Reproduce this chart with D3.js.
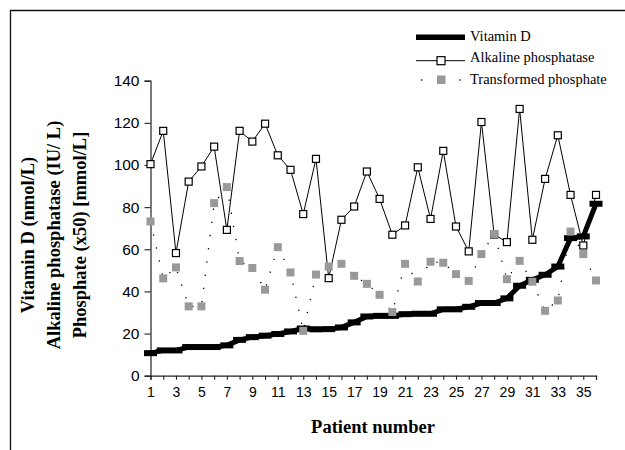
<!DOCTYPE html>
<html>
<head>
<meta charset="utf-8">
<script src="https://cdn.jsdelivr.net/npm/d3@7"></script>
<style>
  body { margin: 0; background: #fff; }
  svg { display: block; }
  .tick text { font-family: "Liberation Sans", Arial, sans-serif; fill: #000; }
  .serif { font-family: "Liberation Serif", "Times New Roman", serif; fill: #000; }
</style>
</head>
<body>
<script>
"use strict";

// patient numbers 1..36
var patients = [1,2,3,4,5,6,7,8,9,10,11,12,13,14,15,16,17,18,19,20,21,22,23,24,25,26,27,28,29,30,31,32,33,34,35,36];

// Vitamin D (nmol/L), sorted ascending
var vitaminD = [10.7, 12, 12, 13.6, 13.6, 13.6, 14.4, 17, 18.3, 19, 19.8, 21, 22.4, 22, 22.1, 22.9, 25.3, 28.1,
                28.4, 28.4, 29.2, 29.4, 29.4, 31.5, 31.5, 32.7, 34.5, 34.5, 36.7, 42.7, 45.5, 47.9, 51.8, 65.3, 66.1, 81.6];

// Alkaline phosphatase (IU/L)
var alkaline = [100.4, 116.2, 58.2, 92.1, 99.3, 108.7, 69.2, 116.2, 111.1, 119.6, 104.6, 97.7, 76.7, 102.9, 46.3, 74.0,
                80.3, 96.9, 83.9, 66.9, 71.3, 98.9, 74.4, 106.7, 70.8, 59.0, 120.4, 67, 63.4, 126.6, 64.5, 93.4, 114.1, 85.8, 61.8, 85.8];

// Phosphate x50 (mmol/L)
var phosphate = [73.2, 46.2, 51.4, 32.9, 32.9, 81.9, 89.5, 54.4, 51.1, 40.8, 61.0, 49.0, 21.3, 48.0, 51.8, 53.1,
                 47.4, 43.6, 38.4, 30.2, 53.1, 44.7, 54.1, 53.6, 48.2, 45.0, 57.7, 67.3, 45.8, 54.5, 44.6, 30.8, 35.7, 68.4, 57.7, 45.2];

var yTicks = [0, 20, 40, 60, 80, 100, 120, 140];
var yTitle = ["Vitamin D (nmol/L)", "Alkaline phosphatase (IU/ L)", "Phosphate (x50) [mmol/L]"];
var xTitle = "Patient number";
var legendLabels = ["Vitamin D", "Alkaline phosphatase", "Transformed phosphate"];

var width = 625, height = 450;

var svg = d3.select("body").append("svg")
    .attr("width", width)
    .attr("height", height);

// outer frame (top and left edges only)
svg.append("path")
    .attr("d", "M10.5,450V10.5H625")
    .attr("fill", "none")
    .attr("stroke", "#111")
    .attr("stroke-width", 1.3);

var x = d3.scaleLinear().domain([1, 36]).range([150.5, 596]);
var y = d3.scaleLinear().domain([0, 140]).range([375.7, 80.7]);

// axes
var yAxis = svg.append("g")
    .attr("transform", "translate(150.5,0)")
    .call(d3.axisLeft(y).tickValues(yTicks).tickSize(6).tickPadding(5));
yAxis.selectAll("text").style("font-size", "15.5px");

var xAxis = svg.append("g")
    .attr("transform", "translate(0,375.7)")
    .call(d3.axisBottom(x).tickValues(patients).tickSize(4).tickPadding(7)
        .tickFormat(function(d) { return d % 2 ? d : ""; }));
xAxis.selectAll("text").style("font-size", "14px");

svg.selectAll(".domain").attr("stroke", "#222").attr("stroke-width", 1.2);
svg.selectAll(".tick line").attr("stroke", "#222").attr("stroke-width", 1.1);

// axis titles
var yt = svg.append("text")
    .attr("class", "serif")
    .attr("transform", "translate(0,235) rotate(-90)")
    .attr("text-anchor", "middle")
    .style("font-size", "18.5px")
    .style("font-weight", "bold");
yt.selectAll("tspan").data(yTitle).enter().append("tspan")
    .attr("x", 0)
    .attr("y", function(d, i) { return 34 + i * 26; })
    .text(function(d) { return d; });

svg.append("text")
    .attr("class", "serif")
    .attr("x", 373)
    .attr("y", 433)
    .attr("text-anchor", "middle")
    .style("font-size", "18.5px")
    .style("font-weight", "bold")
    .text(xTitle);

var line = function(values) {
    return d3.line()
        .x(function(d, i) { return x(patients[i]); })
        .y(function(d) { return y(d); })(values);
};

// Vitamin D: thick line with flat bar markers
svg.append("path")
    .attr("d", line(vitaminD))
    .attr("fill", "none")
    .attr("stroke", "#000")
    .attr("stroke-width", 5)
    .attr("stroke-linejoin", "round");

svg.selectAll(".vitd").data(vitaminD).enter().append("rect")
    .attr("class", "vitd")
    .attr("x", function(d, i) { return x(patients[i]) - 6.5; })
    .attr("y", function(d) { return y(d) - 3; })
    .attr("width", 13)
    .attr("height", 6)
    .attr("fill", "#000");

// Alkaline phosphatase: thin line, open squares
svg.append("path")
    .attr("d", line(alkaline))
    .attr("fill", "none")
    .attr("stroke", "#000")
    .attr("stroke-width", 1);

svg.selectAll(".alk").data(alkaline).enter().append("rect")
    .attr("class", "alk")
    .attr("x", function(d, i) { return x(patients[i]) - 3.5; })
    .attr("y", function(d) { return y(d) - 3.5; })
    .attr("width", 7)
    .attr("height", 7)
    .attr("fill", "#fff")
    .attr("stroke", "#000")
    .attr("stroke-width", 1.2);

// Transformed phosphate: sparse dotted line, grey squares
svg.append("path")
    .attr("d", line(phosphate))
    .attr("fill", "none")
    .attr("stroke", "#000")
    .attr("stroke-width", 1.3)
    .attr("stroke-dasharray", "1.3,12");

svg.selectAll(".pho").data(phosphate).enter().append("rect")
    .attr("class", "pho")
    .attr("x", function(d, i) { return x(patients[i]) - 4; })
    .attr("y", function(d) { return y(d) - 4; })
    .attr("width", 8)
    .attr("height", 8)
    .attr("fill", "#999");

// legend
var lg = svg.append("g");
lg.append("line")
    .attr("x1", 416).attr("x2", 465).attr("y1", 37.3).attr("y2", 37.3)
    .attr("stroke", "#000").attr("stroke-width", 5.5);
lg.append("line")
    .attr("x1", 416).attr("x2", 465).attr("y1", 60.7).attr("y2", 60.7)
    .attr("stroke", "#000").attr("stroke-width", 1);
lg.append("rect")
    .attr("x", 437).attr("y", 56.7).attr("width", 8).attr("height", 8)
    .attr("fill", "#fff").attr("stroke", "#000").attr("stroke-width", 1.2);
lg.selectAll(".ldot").data([421.7, 460]).enter().append("rect")
    .attr("class", "ldot")
    .attr("x", function(d) { return d - 0.7; })
    .attr("y", 79.3).attr("width", 1.4).attr("height", 1.4)
    .attr("fill", "#000");
lg.append("rect")
    .attr("x", 437).attr("y", 75.5).attr("width", 8.5).attr("height", 8.5)
    .attr("fill", "#999");

lg.selectAll(".ltext").data(legendLabels).enter().append("text")
    .attr("class", "serif")
    .attr("x", 470)
    .attr("y", function(d, i) { return 40.7 + i * 21.7; })
    .style("font-size", "14.5px")
    .text(function(d) { return d; });
</script>
</body>
</html>
